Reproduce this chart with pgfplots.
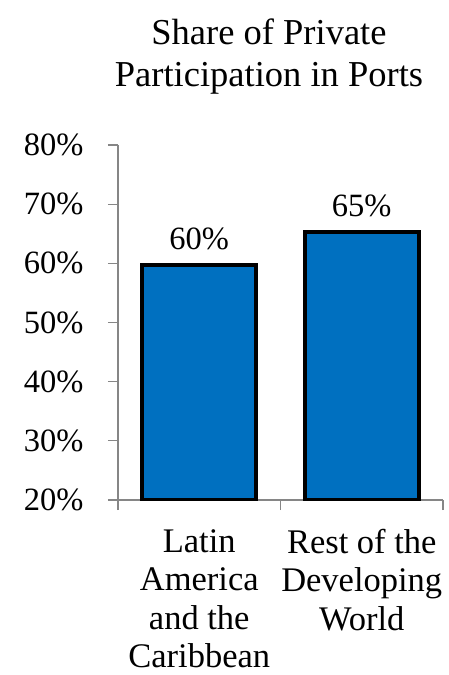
\documentclass[border=0pt]{standalone}
\usepackage{fontspec}
\setmainfont{Liberation Serif}
\usepackage{pgfplots}
\pgfplotsset{compat=1.18}
\definecolor{barblue}{RGB}{0,112,192}
\definecolor{axgray}{RGB}{134,134,134}
\begin{document}
\begin{tikzpicture}
\begin{axis}[
  at={(0,0)}, anchor=south west,
  scale only axis,
  width=325bp, height=355bp,
  xmin=-0.5, xmax=1.5,
  ymin=20, ymax=80,
  ytick={20,30,40,50,60,70,80},
  yticklabel={\pgfmathprintnumber{\tick}\%},
  /pgf/number format/assume math mode=true,
  axis x line*=bottom, axis y line*=left,
  axis line style={-, draw=axgray, line width=1.3bp},
  tick style={draw=axgray, line width=1.3bp},
  tick align=outside,
  major tick length=10bp,
  minor tick length=10bp,
  xtick={0,1},
  xticklabels={{Latin\\America\\and the\\Caribbean},{Rest of the\\Developing\\World}},
  major x tick style={draw=none},
  minor xtick={-0.5,0.5,1.5},
  xticklabel style={align=center, inner sep=0pt, font=\fontsize{34.5bp}{38.5bp}\selectfont, yshift=-19bp},
  yticklabel style={font=\fontsize{32.5bp}{38bp}\selectfont, xshift=-21bp},
  ybar, bar width=114bp,
  nodes near coords={\pgfmathprintnumber[fixed,precision=0]{\pgfplotspointmeta}\%},
  nodes near coords style={font=\fontsize{32.5bp}{38bp}\selectfont, /pgf/number format/assume math mode=true, yshift=10bp},
  point meta=y,
]
\addplot[fill=barblue, draw=black, line width=4bp] coordinates {(0,59.7) (1,65.3)};
\end{axis}
\node[align=center, font=\fontsize{36.5bp}{42bp}\selectfont, anchor=base] at (151bp,413bp) {Share of Private\\Participation in Ports};
\pgfresetboundingbox
\path[use as bounding box] (-118bp,-175bp) rectangle (331bp,500bp);
\end{tikzpicture}
\end{document}
